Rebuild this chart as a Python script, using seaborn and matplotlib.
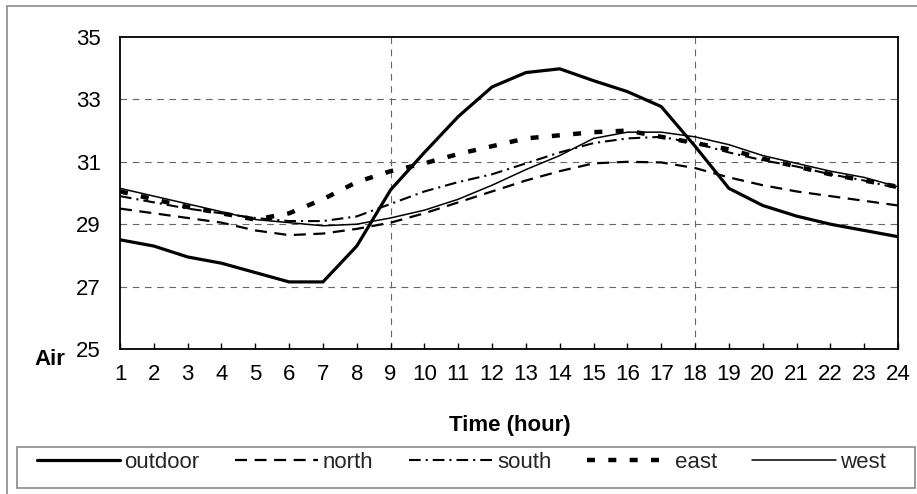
import matplotlib
matplotlib.use("Agg")
import matplotlib.pyplot as plt
import seaborn as sns
import numpy as np
import pandas as pd
from matplotlib.patches import Rectangle

hours = list(range(1, 25))
outdoor = [28.5, 28.3, 27.95, 27.75, 27.45, 27.15, 27.15, 28.3, 30.1, 31.3, 32.45, 33.4,
           33.86, 33.98, 33.6, 33.25, 32.77, 31.5, 30.15, 29.6, 29.26, 29.0, 28.8, 28.6]
north = [29.5, 29.35, 29.2, 29.05, 28.8, 28.65, 28.7, 28.85, 29.05, 29.35, 29.7, 30.05,
         30.4, 30.7, 30.95, 31.0, 30.98, 30.8, 30.5, 30.25, 30.05, 29.9, 29.75, 29.6]
south = [29.9, 29.7, 29.5, 29.35, 29.2, 29.1, 29.1, 29.25, 29.65, 30.05, 30.35, 30.6,
         30.95, 31.3, 31.6, 31.75, 31.8, 31.6, 31.3, 31.05, 30.85, 30.6, 30.4, 30.15]
east = [30.05, 29.8, 29.55, 29.35, 29.15, 29.35, 29.8, 30.35, 30.7, 30.95, 31.25, 31.5,
        31.75, 31.85, 31.95, 32.0, 31.8, 31.6, 31.4, 31.1, 30.85, 30.6, 30.4, 30.2]
west = [30.15, 29.9, 29.65, 29.4, 29.15, 29.05, 28.95, 29.0, 29.2, 29.45, 29.8, 30.25,
        30.75, 31.2, 31.75, 31.95, 31.95, 31.8, 31.55, 31.2, 30.95, 30.7, 30.5, 30.2]
y_ticks = [25, 27, 29, 31, 33, 35]
x_label = "Time (hour)"
y_label = "Air"

sns.set_theme(style="white")
plt.rcParams['font.family'] = ['Liberation Sans', 'DejaVu Sans']

W, H = 917, 494
fig = plt.figure(figsize=(W / 100, H / 100), dpi=100)
fig.patch.set_facecolor("white")
L, R, T, B = 120, 898, 37, 349
ax = fig.add_axes([L / W, 1 - B / H, (R - L) / W, (B - T) / H])
ax.set_facecolor("white")

series = [
    ("outdoor", outdoor, dict(linewidth=2.3, linestyle="-")),
    ("north", north, dict(linewidth=1.6, linestyle=(0, (5.4, 3.4)))),
    ("south", south, dict(linewidth=1.5, linestyle=(0, (5.6, 2.4, 1.0, 2.4)))),
    ("east", east, dict(linewidth=3.2, linestyle=(0, (1.8, 3.0)))),
    ("west", west, dict(linewidth=1.1, linestyle="-")),
]
for name, vals, kw in series:
    df = pd.DataFrame({"hour": hours, "temp": vals})
    sns.lineplot(data=df, x="hour", y="temp", ax=ax, color="black", label=name, **kw)

handles, labels = ax.get_legend_handles_labels()
if ax.get_legend() is not None:
    ax.get_legend().remove()

ax.set_xlim(1, 24)
ax.set_ylim(25, 35)
ax.set_xticks(hours)
ax.set_xticklabels([str(h) for h in hours])
ax.set_yticks(y_ticks)
ax.set_yticklabels([str(v) for v in y_ticks])
ax.tick_params(axis="x", direction="in", length=4, width=1, color="black",
               labelsize=16, pad=11, bottom=True)
ax.tick_params(axis="y", length=0, labelsize=16, pad=14)
for lbl in ax.get_xticklabels() + ax.get_yticklabels():
    lbl.set_color("black")
ax.set_xlabel("")
ax.set_ylabel("")

for v in [27, 29, 31, 33]:
    ax.axhline(v, color="#666666", linewidth=0.8, linestyle=(0, (6, 5)), zorder=0)
for h in [9, 18]:
    ax.axvline(h, color="#666666", linewidth=0.8, linestyle=(0, (6, 5)), zorder=0)

for s in ax.spines.values():
    s.set_visible(True)
    s.set_color("black")
    s.set_linewidth(1.3)

fig.text(510 / W, 1 - 425 / H, x_label, ha="center", va="center",
         fontsize=16, fontweight="bold", color="black")
fig.text(50 / W, 1 - 359 / H, y_label, ha="center", va="center",
         fontsize=16, fontweight="bold", color="black")

# outer border
fig.patches.append(Rectangle((7 / W, -0.05), 1.2, (1 - 6 / H) + 0.05, transform=fig.transFigure,
                             fill=False, edgecolor="#8a8a8a", linewidth=1.2))
# legend box
fig.patches.append(Rectangle((17 / W, 1 - 488 / H), (915 - 17) / W, (488 - 447) / H,
                             transform=fig.transFigure, fill=False,
                             edgecolor="#8a8a8a", linewidth=1.2))
fig.legend(handles, labels, loc="upper left", bbox_to_anchor=(30 / W, 1 - 445 / H),
           ncol=5, frameon=False, handlelength=3.75, handletextpad=0.2,
           columnspacing=1.6, fontsize=16, borderaxespad=0, borderpad=0.3)

fig.savefig("out.png", dpi=100, facecolor="white")
